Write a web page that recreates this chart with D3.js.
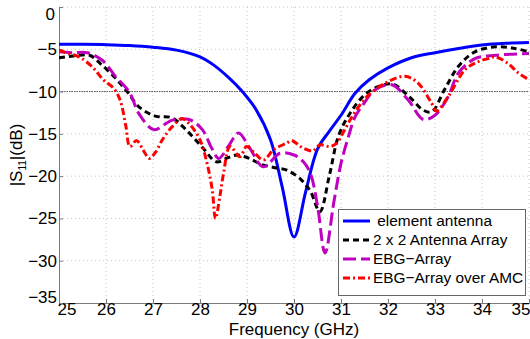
<!DOCTYPE html>
<html>
<head>
<meta charset="utf-8">
<script src="https://cdn.jsdelivr.net/npm/d3@7"></script>
<style>
  body { margin: 0; background: #fff; }
  text { font-family: "Liberation Sans", Arial, Helvetica, sans-serif; fill: #000; }
</style>
</head>
<body>
<div id="chart"></div>
<script>
// values (GHz, dB)
const freqElem = [25, 25.5, 26, 26.5, 27, 27.5, 28, 28.3, 28.6, 28.9, 29.2, 29.5, 29.75, 30, 30.25, 30.5, 30.75, 31, 31.3, 31.6, 32, 32.5, 33, 33.5, 34, 34.5, 35];
const s11Elem = [-4.4, -4.4, -4.45, -4.55, -4.75, -5.1, -5.9, -6.9, -8.3, -10, -12.2, -15.7, -21.3, -27.2, -21.8, -16.8, -14.7, -12.8, -10.2, -8.6, -7.2, -6.0, -5.4, -4.9, -4.5, -4.3, -4.2];

const freqArray = [25, 25.3, 25.65, 25.9, 26.2, 26.45, 26.7, 27.05, 27.4, 27.7, 28.05, 28.35, 28.6, 28.8, 29.05, 29.3, 29.6, 29.85, 30.15, 30.35, 30.55, 30.75, 30.95, 31.2, 31.5, 31.8, 32.1, 32.45, 32.75, 32.93, 33.2, 33.5, 33.85, 34.3, 34.7, 35];
const s11Array = [-6.0, -5.8, -5.7, -6.8, -8.4, -10, -11.8, -12.9, -13.1, -14.5, -16.6, -18.3, -17.8, -17.5, -17.9, -18.6, -19.0, -19.3, -20.4, -21.8, -24.2, -20, -15.2, -12.5, -10.4, -9.4, -9.1, -10.6, -12.2, -12.4, -9.8, -7.0, -5.3, -4.7, -4.9, -5.3];

const freqEbg = [25, 25.3, 25.6, 25.92, 26.2, 26.5, 26.7, 27.02, 27.4, 27.77, 28.05, 28.25, 28.4, 28.6, 28.82, 29.05, 29.35, 29.7, 30.0, 30.2, 30.35, 30.5, 30.66, 30.85, 31.0, 31.15, 31.3, 31.5, 31.72, 32.08, 32.43, 32.75, 33.0, 33.28, 33.5, 33.85, 34.3, 35];
const s11Ebg = [-5.3, -5.4, -5.4, -6.3, -8.2, -10.1, -12.6, -14.5, -13.4, -13.3, -14.5, -16.7, -17.9, -16.5, -14.9, -16.6, -18.9, -17.3, -17.5, -18.3, -19.7, -23.5, -29.1, -23, -18.5, -15.5, -13, -11.3, -9.8, -9.2, -11, -13.3, -12.8, -10.6, -7.8, -6.1, -5.7, -5.5];

const freqAmc = [25, 25.2, 25.43, 25.73, 25.94, 26.16, 26.3, 26.42, 26.51, 26.65, 26.8, 26.92, 27.05, 27.2, 27.4, 27.62, 27.8, 28.0, 28.15, 28.26, 28.33, 28.42, 28.5, 28.64, 28.85, 28.99, 29.15, 29.35, 29.56, 29.84, 29.95, 30.2, 30.4, 30.55, 30.77, 30.91, 31.05, 31.19, 31.35, 31.55, 31.94, 32.36, 32.64, 32.93, 33.03, 33.28, 33.64, 33.9, 34.13, 34.28, 34.56, 34.77, 35];
const s11Amc = [-5.1, -5.5, -5.9, -7.2, -8.6, -9.6, -11, -14, -16.5, -15.8, -17, -17.9, -17.2, -15.7, -14.2, -13.2, -14, -15.7, -18.5, -21.6, -25.0, -22.5, -19.7, -16.5, -17.7, -16.5, -17.2, -18.1, -16.9, -16.1, -15.8, -16.7, -17, -16.3, -16.5, -16.1, -14.8, -13.4, -12, -10.6, -9.0, -8.2, -9.0, -11.4, -12.3, -10.6, -7.4, -6.5, -6.1, -5.9, -6.7, -7.8, -8.6];

const seriesNames = [" element antenna", "2 x 2 Antenna Array", "EBG\u2212Array", "EBG\u2212Array over AMC"];
const xTicks = [25, 26, 27, 28, 29, 30, 31, 32, 33, 34, 35];
const yTicks = [0, -5, -10, -15, -20, -25, -30, -35];
const refLevel = -10;

const width = 530;
const height = 339;
const plot = { left: 59, right: 529, top: 7, bottom: 303 };

const series = [
  { name: seriesNames[0], f: freqElem, v: s11Elem, color: "#0000ff", dash: null },
  { name: seriesNames[1], f: freqArray, v: s11Array, color: "#000000", dash: "6,4" },
  { name: seriesNames[2], f: freqEbg, v: s11Ebg, color: "#bf00bf", dash: "13,5" },
  { name: seriesNames[3], f: freqAmc, v: s11Amc, color: "#ff0000", dash: "7,3,2,3" }
];

const svg = d3
  .select("#chart")
  .append("svg")
  .attr("width", width)
  .attr("height", height);

const xScale = d3.scaleLinear().domain([25, 35]).range([plot.left, plot.right]);
const yScale = d3.scaleLinear().domain([-35, 0]).range([plot.bottom, plot.top]);

// dotted grid
const grid = svg.append("g").attr("stroke", "#c4c4c4").attr("stroke-dasharray", "1,3");
grid.selectAll(".vg")
  .data(xTicks.slice(1))
  .enter()
  .append("line")
  .attr("x1", d => xScale(d)).attr("x2", d => xScale(d))
  .attr("y1", plot.top).attr("y2", plot.bottom);
grid.selectAll(".hg")
  .data(yTicks.filter(d => d !== -35))
  .enter()
  .append("line")
  .attr("x1", plot.left).attr("x2", plot.right)
  .attr("y1", d => yScale(d)).attr("y2", d => yScale(d));

// -10 dB reference
svg.append("line")
  .attr("x1", plot.left).attr("x2", plot.right)
  .attr("y1", yScale(refLevel)).attr("y2", yScale(refLevel))
  .attr("stroke", "#444").attr("stroke-width", 0.9).attr("stroke-dasharray", "1.5,1");

// axes
const xAxis = svg.append("g")
  .attr("transform", `translate(0,${plot.bottom})`)
  .call(d3.axisBottom(xScale).tickValues(xTicks).tickSize(-4).tickPadding(0).tickSizeOuter(0));
const yAxis = svg.append("g")
  .attr("transform", `translate(${plot.left},0)`)
  .call(d3.axisLeft(yScale).tickValues(yTicks).tickSize(-4).tickPadding(2).tickSizeOuter(0));

[xAxis, yAxis].forEach(ax => {
  ax.select(".domain").attr("stroke", "#7a7a7a");
  ax.selectAll(".tick line").attr("stroke", "#7a7a7a");
  ax.selectAll("text").style("font-size", "17px").attr("fill", "#000");
});

// matlab pushes the end labels inside the figure
xAxis.selectAll(".tick text").filter(d => d === 25).attr("text-anchor", "start").attr("x", -2);
xAxis.selectAll(".tick text").filter(d => d === 35).attr("text-anchor", "end").attr("x", 1);
yAxis.selectAll(".tick text").filter(d => d === 0).attr("dy", "0.74em").attr("x", -4);
yAxis.selectAll(".tick text").filter(d => d === -35).attr("dy", "-0.05em");

// curves
const line = d3.line()
  .x(d => xScale(d[0]))
  .y(d => yScale(d[1]))
  .curve(d3.curveCatmullRom.alpha(0.5));

svg.append("clipPath").attr("id", "clip")
  .append("rect")
  .attr("x", plot.left).attr("y", plot.top - 2)
  .attr("width", plot.right - plot.left + 2).attr("height", plot.bottom - plot.top + 2);

svg.append("g")
  .attr("clip-path", "url(#clip)")
  .selectAll(".curve")
  .data(series)
  .enter()
  .append("path")
  .attr("class", "curve")
  .attr("fill", "none")
  .attr("stroke", d => d.color)
  .attr("stroke-width", 3)
  .attr("stroke-dasharray", d => d.dash)
  .attr("d", d => line(d.f.map((f, i) => [f, d.v[i]])));

// axis titles
svg.append("text")
  .attr("x", (plot.left + plot.right) / 2)
  .attr("y", 335)
  .attr("text-anchor", "middle")
  .style("font-size", "17px")
  .text("Frequency (GHz)");

const yLabel = svg.append("text")
  .attr("transform", `translate(22,${(plot.top + plot.bottom) / 2}) rotate(-90)`)
  .attr("text-anchor", "middle")
  .style("font-size", "17px");
yLabel.append("tspan").text("|S");
yLabel.append("tspan").attr("dy", 4).style("font-size", "10px").text("11");
yLabel.append("tspan").attr("dy", -4).text("|(dB)");

// legend
const legend = svg.append("g");
legend.append("rect")
  .attr("x", 338.5).attr("y", 209.5)
  .attr("width", 187).attr("height", 86)
  .attr("fill", "#fff").attr("stroke", "#666");

const item = legend.selectAll(".item")
  .data(series)
  .enter()
  .append("g")
  .attr("transform", (d, i) => `translate(343,${221 + i * 19})`);
item.append("line")
  .attr("x1", 0).attr("x2", 27)
  .attr("stroke", d => d.color)
  .attr("stroke-width", 3)
  .attr("stroke-dasharray", d => d.dash);
item.append("text")
  .attr("x", 30)
  .attr("dy", "0.35em")
  .style("font-size", "15.4px")
  .style("white-space", "pre")
  .text(d => d.name);
</script>
</body>
</html>
